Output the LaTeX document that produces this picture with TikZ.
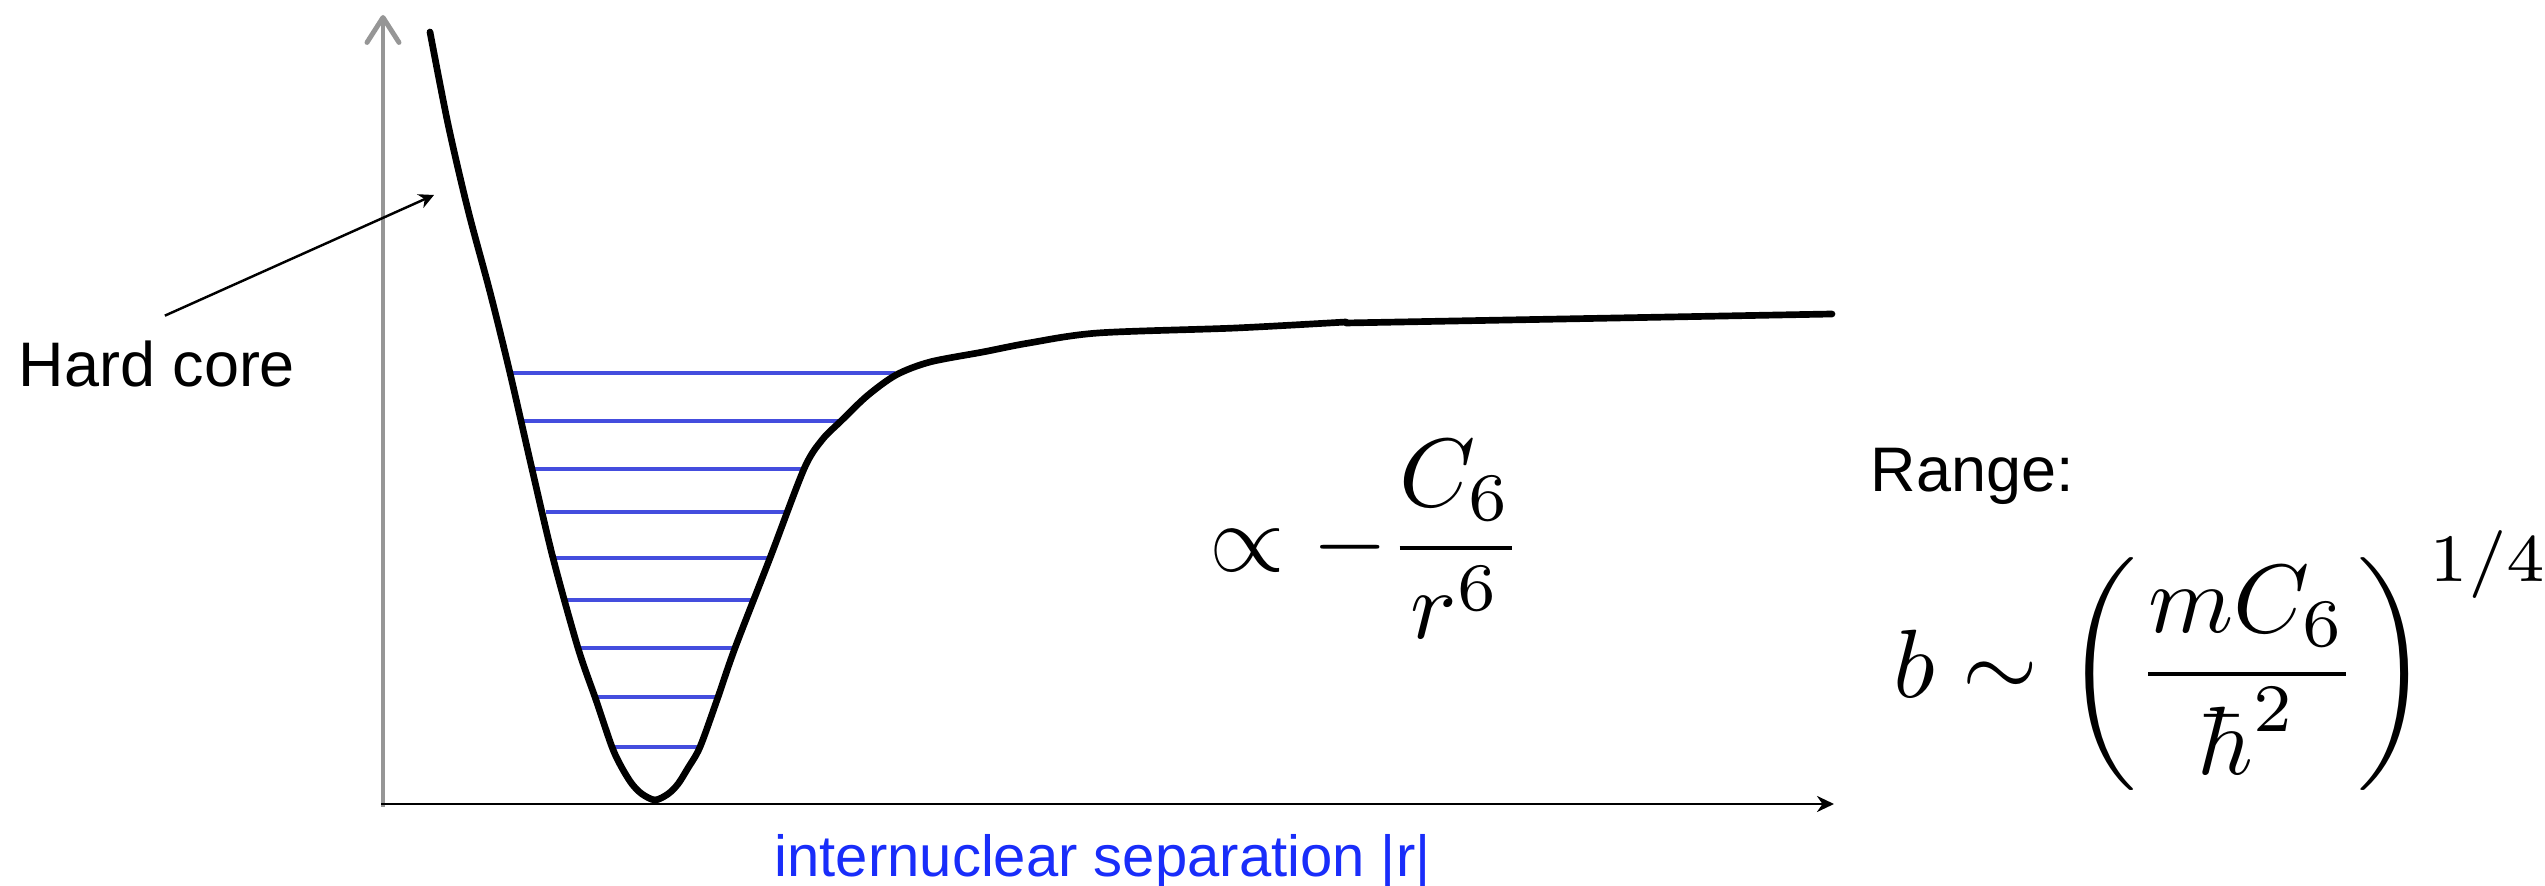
\documentclass[tikz,border=0pt]{standalone}
\usepackage{fontspec}
\setsansfont{Liberation Sans}
\usetikzlibrary{arrows.meta}
\definecolor{levelblue}{RGB}{68,77,222}
\definecolor{labelblue}{RGB}{25,45,250}
\definecolor{axisgray}{RGB}{150,150,150}
\begin{document}
\begin{tikzpicture}[x=0.01cm, y=-0.01cm,
  curve/.style={line width=1.9pt, black, line join=round, line cap=round},
  level/.style={line width=1.4pt, levelblue},
  axisy/.style={line width=1.4pt, axisgray, -{Straight Barb[length=0.25cm, width=0.32cm, round]}},
  axisx/.style={line width=0.85pt, black, -{Stealth[length=0.17cm, width=0.16cm]}},
  pointer/.style={line width=0.7pt, black, -{Stealth[length=0.15cm, width=0.15cm]}},
  sanslabel/.style={font=\sffamily\fontsize{17.9pt}{21pt}\selectfont, inner sep=0pt, anchor=base west},
  xlabelstyle/.style={font=\sffamily\fontsize{16.5pt}{20pt}\selectfont, inner sep=0pt, anchor=base west, text=labelblue},
  mathlabel/.style={font=\normalsize, scale=2.76, transform shape, inner sep=0pt, anchor=base west}]
\useasboundingbox (0,0) rectangle (2545,886);

% axes
\coordinate (yorig) at (383,807);
\coordinate (ytip) at (383,15);
\coordinate (xorig) at (381,804);
\coordinate (xtip) at (1834,804);
\draw[axisy] (yorig) -- (ytip);
\draw[axisx] (xorig) -- (xtip);

% vibrational levels
\foreach \y/\xa/\xb in {373/509/895, 421/522/841, 469/531/804, 512/546/786, 558/555/770, 600/566/754, 648/575/734, 697/595/716, 747/610/700}
  \draw[level] (\xa,\y) -- (\xb,\y);

% potential curve
\draw[curve] plot[smooth, tension=0.5] coordinates {(430,32) (448,124) (468,210) (490,292) (510,373) (532,469) (553,558) (578,648) (596,700) (612,747) (622,768) (632,784) (642,794) (655,800) (668,794) (678,784) (688,768) (700,747) (717,700) (735,648) (770,558) (804,469) (822,440) (841,421) (867,396) (896,375) (930,362) (983,352) (1029,343) (1098,333) (1236,328) (1346,322)};
\draw[curve] (1346,323) -- (1832,314);

% labels
\node[sanslabel] (hc) at (18,387) {Hard core};
\coordinate (hctip) at (434,195);
\draw[pointer] ([yshift=0.25cm, xshift=0.08cm]hc.north) -- (hctip);

\node[xlabelstyle] (xlab) at (774,877) {internuclear separation |r|};
\node[sanslabel] (range) at (1870,492) {Range:};
\node[mathlabel] (pot) at (1208,572) {$\displaystyle \propto -\frac{C_6}{r^6}$};
\node[mathlabel] (bform) at (1892,698) {$\displaystyle b \sim \left(\frac{mC_6}{\hbar^2}\right)^{1/4}$};
\end{tikzpicture}
\end{document}
